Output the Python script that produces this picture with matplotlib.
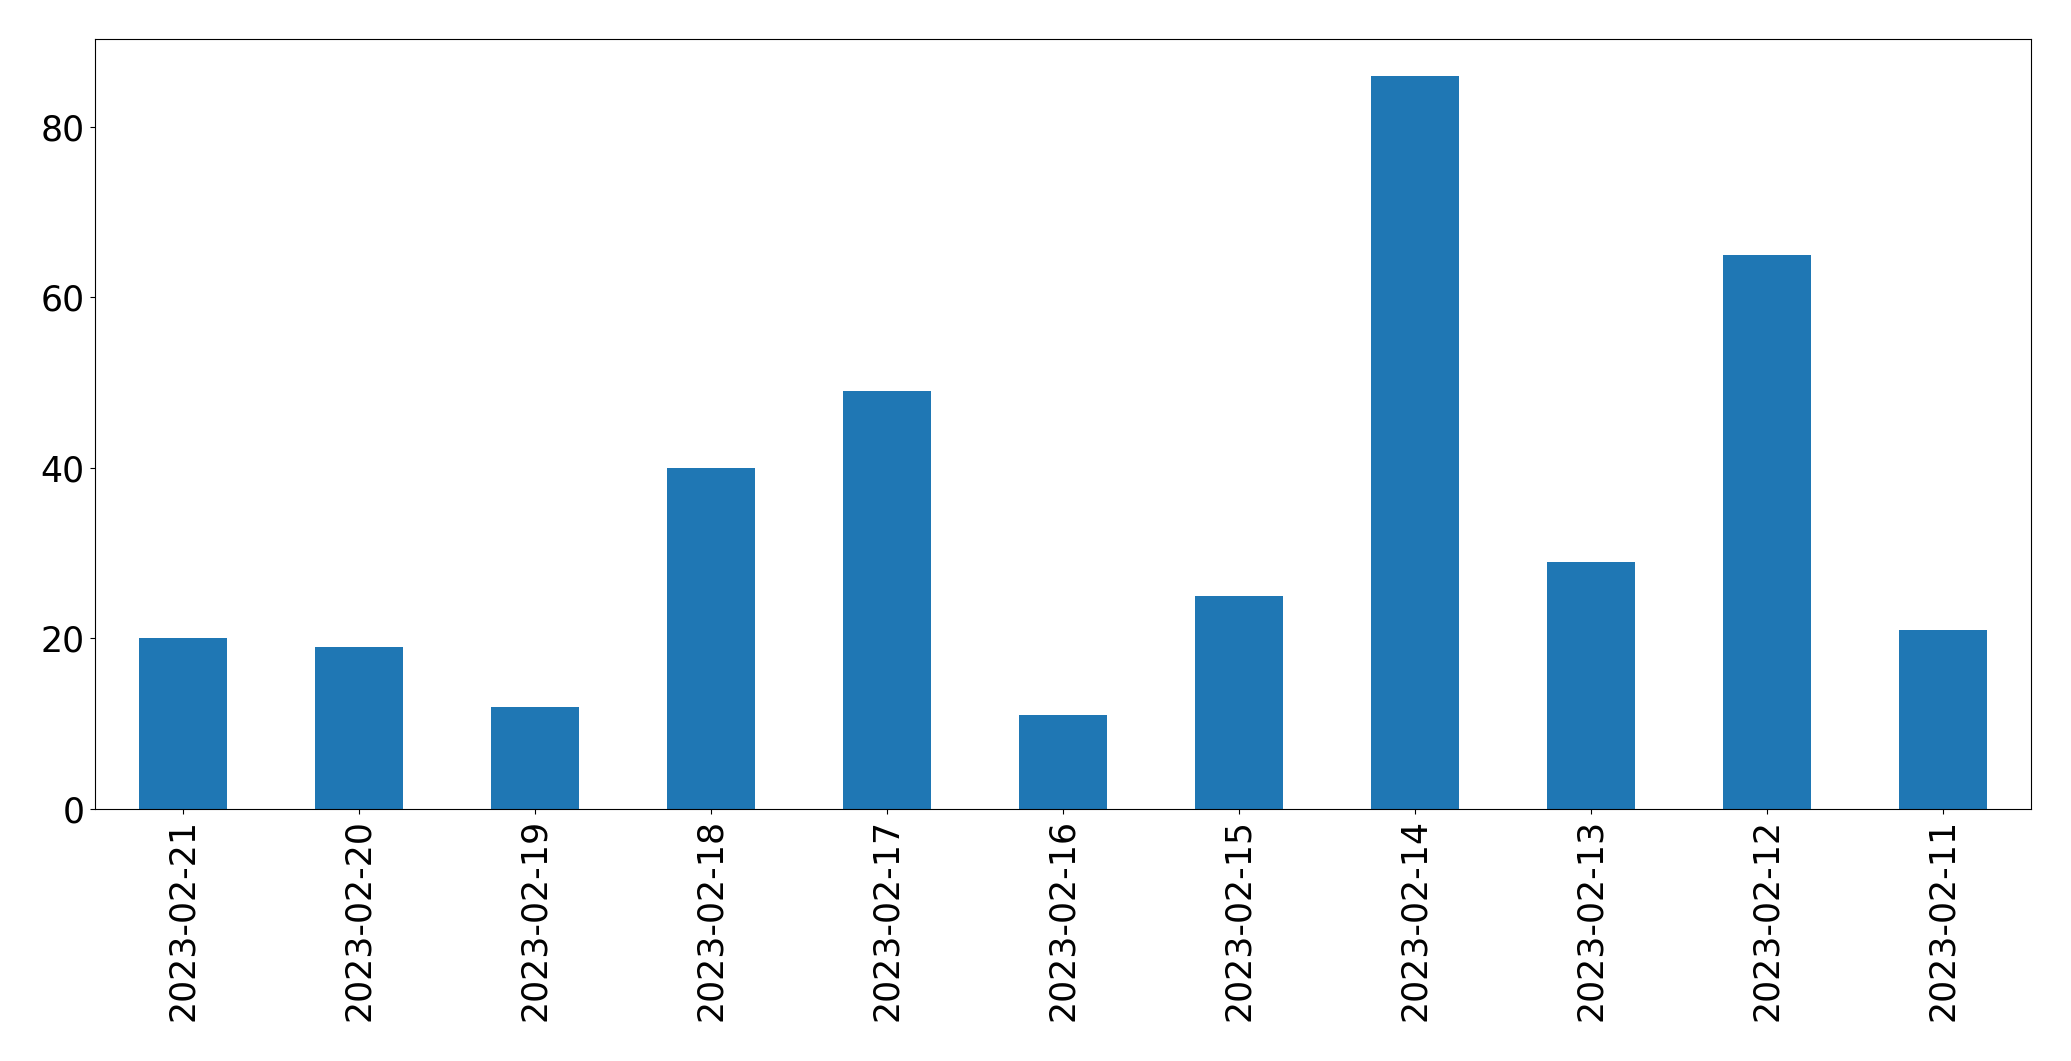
import matplotlib
matplotlib.use("Agg")
import matplotlib.pyplot as plt

dates = ["2023-02-21", "2023-02-20", "2023-02-19", "2023-02-18", "2023-02-17",
         "2023-02-16", "2023-02-15", "2023-02-14", "2023-02-13", "2023-02-12",
         "2023-02-11"]
counts = [20, 19, 12, 40, 49, 11, 25, 86, 29, 65, 21]

fig = plt.figure(figsize=(20.71, 10.61), dpi=100)
ax = fig.add_axes([94.5 / 2071, 1 - 809 / 1061, (2031 - 94.5) / 2071, (809 - 39) / 1061])

x = list(range(len(dates)))
ax.bar(x, counts, width=0.5, color="#1f77b4")
ax.set_xlim(-0.5, len(dates) - 0.5)
ax.set_xticks(x)
ax.set_xticklabels(dates, rotation=90, fontsize=25)
ax.tick_params(axis="y", labelsize=25)

fig.savefig("out.png", dpi=100)
